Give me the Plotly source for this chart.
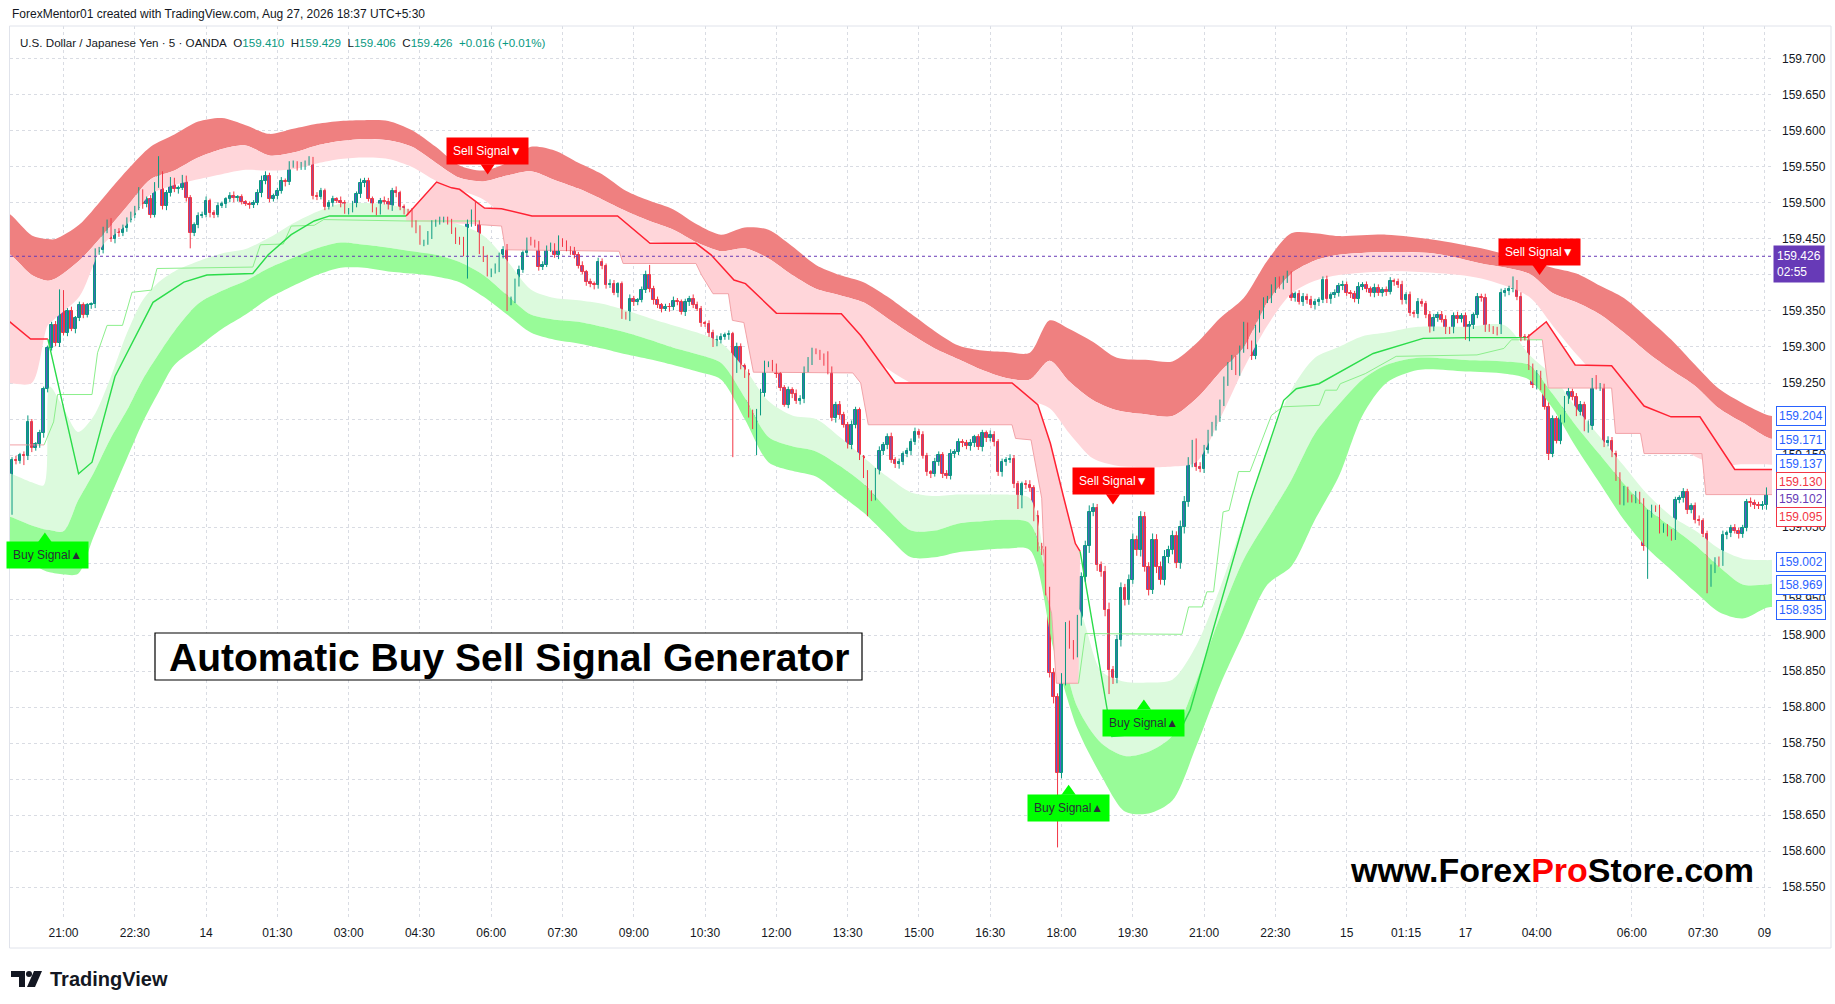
import plotly.graph_objects as go

# ---------------- chart values ----------------
# prices are given as offsets from 159.000 in steps of 0.001
BASE_PRICE = 159.0
STEP = 0.001

FIRST_OPEN = 70
# closes, bars 1-149
CLOSE_A = [143, 142, 150, 148, 196, 160, 165, 180, 241, 299,
           330, 306, 372, 320, 350, 325, 340, 358, 345, 358,
           360, 432, 435, 461, 472, 450, 461, 458, 465, 477,
           484, 493, 514, 498, 505, 484, 524, 538, 496, 514,
           531, 519, 521, 533, 507, 458, 470, 482, 484, 503,
           486, 484, 496, 498, 505, 510, 507, 508, 502, 499,
           497, 500, 514, 531, 538, 505, 510, 517, 531, 529,
           552, 555, 550, 552, 555, 558, 510, 508, 517, 495,
           500, 505, 503, 500, 489, 490, 498, 512, 528, 530,
           505, 491, 489, 503, 502, 494, 517, 514, 494, 489,
           488, 472, 463, 445, 446, 456, 472, 474, 476, 477,
           475, 461, 449, 447, 430, 472, 484, 472, 435, 423,
           402, 405, 410, 428, 435, 362, 366, 390, 407, 430,
           447, 445, 444, 411, 414, 437, 439, 428, 447, 444,
           437, 434, 428, 413, 404, 390, 387, 386, 418]
# closes, bars 150-259
CLOSE_B = [412, 386, 388, 375, 387, 344, 342, 367, 362, 365,
           379, 400, 381, 365, 358, 353, 356, 355, 364, 363,
           349, 362, 367, 358, 353, 333, 332, 320, 305, 310,
           314, 316, 318, 269, 300, 273, 262, 208, 190, 210,
           236, 276, 276, 272, 262, 243, 220, 240, 235, 225,
           228, 269, 280, 294, 293, 286, 280, 267, 201, 220,
           205, 192, 164, 192, 212, 147, 124, 95, 91, 128,
           155, 164, 175, 143, 137, 140, 152, 156, 168, 182,
           178, 149, 126, 124, 140, 150, 124, 121, 152, 154,
           168, 166, 162, 166, 175, 161, 180, 173, 178, 168,
           126, 140, 143, 145, 110, 80, 110, 109, 104, 65]
# closes, bars 260-303
CLOSE_C = [22, 18, -37, -153, -186, -292, -162, -88, -112, -125,
           -79, -19, 23, 71, 76, -3, -12, -65, -149, -160,
           -107, -35, -51, -23, 32, 18, 64, -5, -37, 32,
           -5, -23, 9, 18, 37, 0, 50, 85, 141, 164,
           134, 131, 157, 180]
# closes, bars 304-444
CLOSE_D = [190,
           201, 222, 252, 273, 284, 265, 296, 330, 303, 287,
           326, 344, 365, 366, 381, 393, 385, 395, 400, 368,
           373, 363, 370, 365, 358, 362, 365, 393, 366,
           372, 375, 385, 386, 375, 373, 366, 384, 386, 380,
           375, 382, 375, 379, 377, 391, 390, 386, 365,
           372, 347, 346, 362, 360, 345, 326, 340, 345, 338,
           324, 323, 343, 339, 343, 314, 330, 344, 370,
           368, 327, 325, 323, 322, 375, 378, 380, 388, 370,
           314, 313, 273, 247, 262, 245, 217, 152, 200, 170,
           201, 226, 238, 230, 210, 220, 187, 190, 252, 245,
           245, 166, 170, 152, 120, 85, 102, 90, 88, 94,
           86, 23, 68, 76, 75, 47, 50, 41, 37, 87,
           90, 98, 73, 79, 60, 58, 40, -28, -8,
           4, 0, 39, 41, 48, 45, 40, 48, 85, 83,
           81, 79, 80, 100]

UPPER_WICK = [4, 6, 3, 5, 9, 4, 3, 5, 4, 3,
              5, 6, 8, 7, 4, 6, 3, 5, 4, 3,
              2, 5, 4, 6, 5, 7, 3, 4, 5, 3,
              4, 3, 8, 5, 4, 6, 5, 27, 6, 4,
              5, 4, 3, 6, 5, 4, 3, 5, 4, 6,
              3, 4, 5, 4, 3, 5, 6, 3, 4, 2,
              3, 4, 5, 7, 6, 4, 3, 4, 5, 3,
              6, 4, 3, 5, 4, 7, 6, 5, 4, 3,
              4, 5, 3, 6, 4, 3, 5, 4, 6, 5,
              5, 4, 3, 4, 6, 5, 4, 6, 3, 4,
              3, 5, 4, 6, 3, 5, 4, 3, 5, 4,
              4, 3, 5, 4, 6, 5, 7, 19, 4, 5,
              5, 4, 6, 3, 5, 8, 4, 5, 6, 4,
              5, 6, 4, 3, 5, 4, 6, 5, 8, 4,
              4, 3, 5, 4, 6, 3, 5, 4, 6, 5,
              4, 6, 5, 3, 4, 5, 6, 4, 3, 5,
              6, 14, 4, 5, 3, 4, 5, 6, 4, 3,
              5, 4, 6, 5, 4, 3, 5, 4, 6, 5,
              4, 5, 3, 6, 5, 4, 7, 5, 4, 6,
              5, 4, 6, 5, 3, 4, 5, 4, 6, 5,
              4, 6, 5, 4, 3, 5, 14, 6, 4, 5,
              5, 4, 6, 5, 4, 3, 5, 6, 4, 7,
              4, 5, 6, 4, 5, 3, 4, 5, 6, 4,
              5, 4, 3, 6, 5, 4, 5, 6, 4, 5,
              4, 5, 6, 3, 4, 5, 4, 6, 5, 4,
              5, 4, 6, 5, 4, 3, 5, 6, 4, 8,
              6, 5, 4, 7, 5, 9, 6, 8, 5, 7,
              6, 8, 9, 7, 6, 5, 8, 10, 6, 7,
              8, 6, 7, 9, 6, 8, 7, 6, 9, 8,
              7, 9, 6, 8, 7, 9, 8, 6, 7, 9,
              6, 7, 5, 6, 4, 5, 7, 6, 5, 4,
              6, 5, 4, 6, 5, 7, 4, 5, 6, 4,
              5, 4, 6, 5, 4, 6, 5, 4, 6, 5,
              4, 5, 6, 4, 5, 4, 6, 5, 4, 5,
              6, 4, 5, 4, 6, 5, 4, 5, 6, 4,
              5, 6, 4, 5, 4, 6, 5, 4, 5, 6,
              4, 5, 6, 4, 5, 6, 4, 5, 6, 4,
              5, 4, 6, 5, 4, 5, 6, 4, 5, 10,
              5, 6, 4, 5, 4, 6, 5, 4, 6, 5,
              4, 5, 6, 5, 4, 6, 5, 4, 8, 5,
              9, 5, 4, 6, 5, 4, 6, 5, 4, 5,
              6, 5, 4, 6, 5, 4, 6, 5, 4, 6,
              5, 4, 6, 5, 4, 5, 6, 4, 5, 6,
              4, 5, 6, 4, 5, 6, 4, 5, 4, 6,
              5, 4, 6, 5]

LOWER_WICK = [3, 5, 4, 12, 5, 6, 4, 5, 6, 4,
              4, 5, 6, 4, 5, 3, 6, 4, 5, 4,
              5, 6, 4, 5, 3, 4, 6, 5, 4, 5,
              4, 5, 3, 6, 4, 5, 4, 3, 5, 6,
              5, 4, 6, 3, 5, 21, 4, 5, 3, 4,
              6, 5, 4, 3, 5, 4, 6, 5, 4, 3,
              5, 4, 3, 6, 5, 4, 3, 5, 4, 6,
              4, 3, 5, 4, 6, 3, 5, 4, 3, 5,
              4, 5, 3, 6, 4, 5, 3, 4, 5, 6,
              3, 4, 6, 5, 4, 3, 5, 6, 4, 5,
              4, 6, 5, 3, 5, 4, 6, 5, 4, 3,
              5, 4, 6, 5, 4, 35, 5, 4, 6, 5,
              4, 5, 3, 6, 5, 12, 4, 5, 6, 4,
              5, 4, 6, 5, 4, 3, 5, 4, 6, 5,
              4, 6, 5, 4, 3, 5, 4, 6, 5, 4,
              5, 4, 3, 6, 5, 4, 6, 5, 4, 3,
              4, 5, 6, 4, 5, 3, 6, 4, 5, 4,
              6, 5, 4, 3, 5, 4, 6, 5, 4, 5,
              4, 6, 122, 5, 4, 5, 6, 4, 40, 5,
              5, 4, 6, 5, 4, 3, 5, 6, 4, 5,
              6, 4, 5, 3, 4, 6, 5, 4, 6, 5,
              4, 5, 6, 5, 4, 6, 30, 5, 4, 5,
              5, 6, 4, 5, 6, 4, 5, 6, 4, 5,
              4, 5, 6, 4, 5, 6, 4, 5, 6, 4,
              5, 4, 6, 5, 4, 6, 5, 4, 6, 5,
              6, 5, 4, 6, 5, 4, 6, 5, 7, 6,
              7, 8, 6, 9, 103, 7, 8, 7, 9, 6,
              8, 7, 9, 6, 8, 7, 9, 33, 8, 7,
              9, 8, 7, 6, 8, 9, 7, 8, 6, 9,
              7, 8, 9, 6, 7, 8, 9, 7, 8, 6,
              5, 6, 5, 4, 6, 5, 4, 6, 5, 4,
              5, 4, 6, 5, 4, 6, 5, 4, 5, 6,
              4, 5, 6, 4, 5, 4, 6, 5, 4, 6,
              5, 4, 5, 6, 4, 5, 6, 4, 5, 4,
              6, 5, 4, 5, 6, 4, 5, 6, 4, 5,
              4, 6, 5, 4, 5, 6, 4, 5, 6, 4,
              5, 4, 6, 5, 4, 6, 5, 4, 6, 5,
              4, 5, 6, 4, 5, 6, 4, 5, 6, 4,
              5, 6, 4, 5, 4, 6, 5, 4, 9, 5,
              4, 5, 6, 5, 4, 6, 5, 4, 6, 5,
              4, 6, 5, 4, 5, 6, 4, 5, 6, 4,
              5, 4, 6, 45, 5, 4, 6, 5, 4, 6,
              5, 4, 6, 5, 4, 5, 6, 4, 14, 5,
              6, 5, 4, 6, 5, 4, 6, 5, 4, 5,
              6, 4, 5, 6]

TIME_TICK_BAR = [14, 32, 50, 68, 86, 104, 122, 140, 158, 176, 194, 212, 230,
                 248, 266, 284, 302, 320, 338, 353, 368, 386, 410, 428, 443.5]
TIME_TICK_TEXT = ["21:00", "22:30", "14", "01:30", "03:00", "04:30", "06:00",
                  "07:30", "09:00", "10:30", "12:00", "13:30", "15:00", "16:30",
                  "18:00", "19:30", "21:00", "22:30", "15", "01:15", "17",
                  "04:00", "06:00", "07:30", "09"]

PRICE_TICK_TEXT = ["158.550", "158.600", "158.650", "158.700", "158.750", "158.800",
                   "158.850", "158.900", "158.950", "159.000", "159.050", "159.100",
                   "159.150", "159.200", "159.250", "159.300", "159.350", "159.400",
                   "159.450", "159.500", "159.550", "159.600", "159.650", "159.700"]
PRICE_TICK_HIDDEN = ["159.100", "159.400"]   # covered by price labels in the reference

# sell cloud (upper) boundaries
RED_X = [-3, 0, 6, 10, 12, 18,
         24, 30, 36, 42, 48, 54, 60, 66, 72, 78, 84, 90, 96, 102, 108, 114, 120,
         126, 132, 138, 144, 150, 156, 162, 168, 174, 180, 186, 192, 198, 204,
         210, 216, 222, 228, 234, 240, 246, 252,
         258, 263, 268, 274, 280, 288, 294, 300, 306, 312, 318, 324, 330, 336,
         348, 360, 372, 384,
         390, 396, 402, 408, 414, 420, 426, 432, 438, 444, 448]
RED_TOP = [486, 486, 455, 450, 450, 470,
           507, 545, 578, 595, 613, 618, 608, 596, 603, 610, 614, 615, 614, 601,
           578, 552, 545, 556, 578, 573, 556, 540, 517, 503, 491, 470, 456, 466,
           463, 440, 414, 400, 390, 370, 346, 322, 302, 295, 293,
           292, 337, 325, 307, 285, 282, 280, 305, 340, 368, 420, 458, 458, 454,
           456, 449, 437, 420,
           410, 402, 385, 368, 340, 310, 275, 242, 222, 206, 200]
RED_MID = [430, 430, 400, 392, 395, 420,
           456, 495, 533, 545, 563, 575, 580, 566, 570, 580, 586, 589, 587, 578,
           556, 535, 530, 538, 544, 532, 520, 505, 489, 475, 463, 445, 433, 437,
           423, 400, 381, 372, 362, 340, 318, 298, 283, 268, 257,
           255, 281, 252, 226, 212, 206, 204, 228, 265, 300, 362, 402, 420, 428,
           432, 430, 416, 402,
           375, 362, 345, 320, 292, 268, 246, 215, 195, 175, 167]
RED_BOT = [250, 250, 250, 330, 340, 370,
           442, 470, 512, 525, 533, 540, 546, 545, 547, 555, 561, 563, 561, 550,
           531, 518, 505, 480, 470, 462, 455, 452, 451, 447, 442, 425, 400, 380,
           350, 345, 344, 330, 300, 270, 250, 240, 235, 235, 230,
           225, 215, 180, 145, 135, 133, 134, 140, 200, 270, 330, 374, 392, 400,
           405, 403, 395, 370,
           330, 290, 255, 230, 200, 168, 148, 135, 137, 137, 137]

# buy cloud (lower) boundaries
GRN_X = [-3, 0, 6, 9, 10.5, 14, 17.7, 21.5, 25.7, 30, 34, 38, 42,
         48, 54, 60, 66, 72, 78, 84, 90, 96, 102, 108,
         114, 120, 126, 132, 138, 144, 150, 156, 162, 168, 174, 180, 186, 192,
         198, 204, 210, 216, 222, 228, 234, 240, 246, 252, 258,
         264, 270, 276, 282, 288, 294, 300, 306, 312, 318, 324, 330, 336, 342, 348,
         356, 368, 378, 384,
         390, 396, 402, 408, 414, 420, 426, 432, 438, 444, 448]
GRN_TOP = [125, 125, 112, 108, 245, 215, 182, 203, 255, 319, 365, 390, 405,
           419, 430, 436, 452, 472, 488, 499, 500, 498, 490, 479,
           470, 455, 420, 380, 368, 365, 360, 351, 340, 330, 320, 306, 270, 225,
           205, 200, 175, 147, 120, 98, 93, 95, 95, 95, 90,
           -40, -60, -150, -165, -166, -162, -115, -35, 60, 160, 240, 285, 300, 315, 320,
           328, 328, 330, 290,
           260, 215, 175, 135, 95, 65, 45, 20, 6, 4, 4]
GRN_MID = [65, 65, 52, 47, 46, 44, 87, 124, 171, 212, 255, 290, 322,
           360, 378, 392, 410, 424, 437, 445, 442, 438, 433, 428,
           418, 400, 372, 345, 338, 335, 328, 320, 310, 299, 290, 278, 230, 175,
           162, 155, 135, 110, 75, 45, 45, 55, 58, 60, 55,
           -70, -200, -250, -268, -262, -240, -165, -75, 5, 60, 115, 180, 220, 255, 275,
           285, 282, 280, 275,
           235, 190, 150, 110, 75, 50, 25, -5, -30, -30, -28]
GRN_BOT = [25, 25, 0, -10, -13, -16, -15, 35, 90, 145, 195, 237, 275,
           300, 325, 345, 368, 385, 400, 410, 410, 405, 402, 398,
           390, 370, 345, 320, 310, 305, 298, 290, 283, 275, 266, 255, 200, 140,
           128, 120, 95, 70, 38, 8, 8, 15, 18, 20, 18,
           -120, -230, -295, -345, -348, -330, -255, -170, -98, -30, -5, 60, 120, 205, 250,
           268, 266, 263, 255,
           215, 160, 110, 60, 20, -10, -40, -68, -77, -62, -58]

# trailing stop lines
RED1_X = [0.0, 5.7, 10.06]
RED1_Y = [337, 311, 311]
RED2_X = [100.5, 108.2, 112, 114, 120.3, 124.6, 132.3, 153.9, 162.1, 173.7, 177.5,
          183.3, 186.2, 194, 210.4, 215.3, 224, 253.5, 260, 263.2, 266.5, 269.5, 270.7]
RED2_Y = [482, 529, 521, 519, 493, 492, 482, 482, 444, 444, 428,
          393, 388, 347, 346, 316, 250, 250, 220, 166, 92, 27, 16]
RED3_X = [383.5, 388.4, 395.7, 404.9, 413.1, 419.9, 427.2, 436, 446]
RED3_Y = [313, 335, 275, 274, 218, 203, 203, 130, 130]

GRN1_X = [10.06, 17.8, 21.2, 27, 36.6, 44.4, 50.2, 61.8, 65.7, 71.5, 77.3, 81.2, 100.5]
GRN1_Y = [311, 124, 140, 259, 362, 390, 400, 402, 428, 456, 475, 482, 482]
GRN2_X = [270.7, 278.7, 296, 298.5, 305.2, 313.7, 322.1, 325.3, 331, 344.7, 357.3, 369, 383.5]
GRN2_Y = [16, -241, -232, -204, -75, 88, 226, 242, 249, 291, 312, 313, 313]

THINP1_X = [0.0, 9.1]
THINP1_Y = [164, 164]
THING1_X = [9.1, 11.5, 12.5, 21.2, 22.6, 25, 28.9, 31.3, 36.2, 37.6, 61.8, 63.7,
            69.5, 71.5, 77.3, 79.7, 100.5, 118.9]
THING1_Y = [164, 196, 234, 234, 292, 330, 330, 376, 379, 409, 411, 442,
            443, 468, 469, 477, 475, 475]
THINP2_X = [118.9, 124.6, 125.6, 154.3, 155.3, 173.7, 175.1, 178, 181.9, 182.9, 185.8,
            188.2, 213.3, 215.3, 217.2, 253.5, 254.4, 258.3, 259.8, 261, 262, 263.5,
            264.7, 270.3]
THINP2_Y = [470, 468, 435, 433, 416, 416, 400, 374, 374, 337, 334,
            265, 264, 250, 192, 192, 173, 171, 126, 90, -40, -70,
            -167, -167]
THING2_X = [270.3, 272, 296.4, 298.1, 301.5, 302.7, 304.4, 306.8, 308.3, 310.7, 313.6,
            319, 321.9, 331.1, 332.6, 335.5, 336.4, 342.7, 350.5, 370.9, 377.7, 379.6, 387.4]
THING2_Y = [-167, -98, -99, -61, -61, -40, -40, 71, 73, 127, 127,
            205, 217, 219, 240, 240, 249, 263, 287, 289, 298, 310, 310]
THINP3_X = [387.4, 388.9, 404.9, 405.9, 412.2, 413.1, 427.7, 428.7, 446]
THINP3_Y = [310, 243, 243, 180, 180, 152, 152, 95, 95]

# signal labels: kind, label centre bar, label centre (offset), pointer bar
SIGNALS = [("sell", 121.1, 571.7, 121.1),
           ("sell", 279.0, 113.4, 279.0),
           ("sell", 386.7, 432.0, 386.7),
           ("buy", 10.0, 10.5, 9.3),
           ("buy", 267.8, -340.0, 267.8),
           ("buy", 286.8, -221.6, 286.8)]

LAST_PRICE = 159.426
COUNTDOWN = "02:55"
SYMBOL = "U.S. Dollar / Japanese Yen · 5 · OANDA"
OHLC = [("O", "159.410"), ("H", "159.429"), ("L", "159.406"), ("C", "159.426")]
CHANGE = "+0.016 (+0.01%)"
SIDE_VALUES = [159.204, 159.171, 159.137, 159.130, 159.102, 159.095, 159.002, 158.969, 158.935]
SIDE_KIND = ["blue", "blue", "blue", "red", "purple", "red", "blue", "blue", "blue"]
SIDE_SHOWN_AT = [159.204, 159.171, 159.137, 159.112, 159.089, 159.064, 159.002, 158.969, 158.935]

# ---------------- geometry / style ----------------
W, H = 1835, 1004
PL, PR, PT, PB = 10, 1772, 26, 920
X_RANGE = [0.49, 445.4]
Y_RANGE = [158.5042, 159.7458]
FONT = "Liberation Sans, Arial, sans-serif"
TXT = "#131722"
GRID = "#d9dce3"
UP, DOWN, BODY_FILL = "#089981", "#f23645", "#5f58c9"
SIDE_COLORS = {"blue": "#2962ff", "red": "#f23645", "purple": "#673ab7"}


def px(v):
    return BASE_PRICE + v * STEP


def paper(x, y):
    return (x - PL) / (PR - PL), 1 - (y - PT) / (PB - PT)


def polygon(xa, ya, xb, yb, color, shape="linear"):
    xs = list(xa) + list(xb)[::-1]
    ys = [px(v) for v in ya] + [px(v) for v in yb][::-1]
    return go.Scatter(x=xs, y=ys, mode="lines",
                      line=dict(width=0, shape=shape, smoothing=0.8),
                      fill="toself", fillcolor=color, hoverinfo="skip")


def line(xs, ys, color, width):
    return go.Scatter(x=xs, y=[px(v) for v in ys], mode="lines",
                      line=dict(color=color, width=width), hoverinfo="skip")


fig = go.Figure()

# clouds
fig.add_trace(polygon(RED_X, RED_TOP, RED_X, RED_MID, "#ef8080", "spline"))
fig.add_trace(polygon(RED_X, RED_MID, RED_X, RED_BOT, "#ffd6da", "spline"))
fig.add_trace(polygon(GRN_X, GRN_TOP, GRN_X, GRN_MID, "#dcfadd", "spline"))
fig.add_trace(polygon(GRN_X, GRN_MID, GRN_X, GRN_BOT, "#98fb98", "spline"))

# pink fill between the two trailing stops while in sell mode
PINK_FILL = "#ffd0d5"
fig.add_trace(polygon(RED2_X, RED2_Y, [RED2_X[0]] + THINP2_X, [THING1_Y[-1]] + THINP2_Y, PINK_FILL))
fig.add_trace(polygon(RED3_X, RED3_Y, [RED3_X[0]] + THINP3_X, [THING2_Y[-1]] + THINP3_Y, PINK_FILL))

# trailing stop lines
for xs, ys in [(THINP1_X, THINP1_Y), (THINP2_X, THINP2_Y), (THINP3_X, THINP3_Y)]:
    fig.add_trace(line(xs, ys, "#f2a3a8", 1))
for xs, ys in [(THING1_X, THING1_Y), (THING2_X, THING2_Y)]:
    fig.add_trace(line(xs, ys, "#8cef8c", 1))
for xs, ys in [(RED1_X, RED1_Y), (RED2_X, RED2_Y), (RED3_X, RED3_Y)]:
    fig.add_trace(line(xs, ys, "#ff2233", 1.5))
for xs, ys in [(GRN1_X, GRN1_Y), (GRN2_X, GRN2_Y)]:
    fig.add_trace(line(xs, ys, "#2bdc4a", 1.4))

# candles
closes = CLOSE_A + CLOSE_B + CLOSE_C + CLOSE_D
opens = [FIRST_OPEN] + closes[:-1]
bars = list(range(1, len(closes) + 1))
highs = [max(o, c) + u for o, c, u in zip(opens, closes, UPPER_WICK)]
lows = [min(o, c) - d for o, c, d in zip(opens, closes, LOWER_WICK)]
is_up = [c >= o for o, c in zip(opens, closes)]

for flag, col in [(True, UP), (False, DOWN)]:
    wx, wy = [], []
    for b, hi, lo, u in zip(bars, highs, lows, is_up):
        if u == flag:
            wx += [b, b, None]
            wy += [px(lo), px(hi), None]
    fig.add_trace(go.Scatter(x=wx, y=wy, mode="lines", line=dict(color=col, width=1),
                             hoverinfo="skip"))

fig.add_trace(go.Bar(
    x=bars,
    y=[max(abs(c - o), 0.8) * STEP for o, c in zip(opens, closes)],
    base=[px(min(o, c)) for o, c in zip(opens, closes)],
    width=0.66,
    marker=dict(color=BODY_FILL, line=dict(color=[UP if u else DOWN for u in is_up], width=1)),
    hoverinfo="skip"))

shapes = []
annotations = []

# current price line
shapes.append(dict(type="line", xref="x", yref="y", x0=X_RANGE[0], x1=X_RANGE[1],
                   y0=LAST_PRICE, y1=LAST_PRICE, line=dict(color="#673ab7", width=1, dash="dot"),
                   layer="above"))

# signal labels
HALF_BOX = 19
POINTER_H = 13
for kind, xc, yc, xp in SIGNALS:
    if kind == "sell":
        text, bg, fc = "Sell Signal▼", "#ff0000", "#ffffff"
        edge, tip = yc - HALF_BOX + 1, yc - HALF_BOX - POINTER_H
    else:
        text, bg, fc = "Buy Signal▲", "#00ff00", "#2a2e39"
        edge, tip = yc + HALF_BOX - 1, yc + HALF_BOX + POINTER_H
    shapes.append(dict(type="path", xref="x", yref="y", layer="above",
                       path=f"M {xp - 1.8},{px(edge)} L {xp + 1.8},{px(edge)} L {xp},{px(tip)} Z",
                       fillcolor=bg, line=dict(width=0)))
    annotations.append(dict(x=xc, y=px(yc), xref="x", yref="y", xanchor="center", yanchor="middle",
                            text=text, showarrow=False,
                            bgcolor=bg, borderpad=6, font=dict(family=FONT, size=12, color=fc)))

# right side price labels
lx, _ = paper(1776, 0)
for val, kind, shown in zip(SIDE_VALUES, SIDE_KIND, SIDE_SHOWN_AT):
    col = SIDE_COLORS[kind]
    annotations.append(dict(x=lx, y=shown, xref="paper", yref="y", xanchor="left", yanchor="middle",
                            text=f"{val:.3f}", showarrow=False, bgcolor="#ffffff", bordercolor=col,
                            borderwidth=1, borderpad=2, font=dict(family=FONT, size=12, color=col)))
cx, _ = paper(1773, 0)
annotations.append(dict(x=cx, y=LAST_PRICE - 0.0103, xref="paper", yref="y", xanchor="left",
                        yanchor="middle", text=f"{LAST_PRICE:.3f}<br>{COUNTDOWN}", showarrow=False,
                        bgcolor="#673ab7", borderpad=3, align="left",
                        font=dict(family=FONT, size=12, color="#ffffff")))

# header texts
hx, hy = paper(10, 14)
annotations.append(dict(x=hx, y=hy, xref="paper", yref="paper", xanchor="left", yanchor="middle",
                        showarrow=False, font=dict(family=FONT, size=12, color=TXT),
                        text="ForexMentor01 created with TradingView.com, Aug 27, 2026 18:37 UTC+5:30"))
teal = "#089981"
sym = SYMBOL + "&nbsp;&nbsp;" + "&nbsp;&nbsp;".join(
    f"{k}<span style='color:{teal}'>{v}</span>" for k, v in OHLC) + \
    f"&nbsp;&nbsp;<span style='color:{teal}'>{CHANGE}</span>"
sx, sy = paper(18, 42)
annotations.append(dict(x=sx, y=sy, xref="paper", yref="paper", xanchor="left", yanchor="middle",
                        showarrow=False, text=sym, font=dict(family=FONT, size=11.6, color=TXT)))

# watermark box
bx0, by0 = paper(155, 633)
bx1, by1 = paper(862, 680)
shapes.append(dict(type="rect", xref="paper", yref="paper", x0=bx0, x1=bx1, y0=by1, y1=by0,
                   fillcolor="#ffffff", line=dict(color="#000000", width=1.2), layer="above"))
wx_, wy_ = paper(508.5, 657)
annotations.append(dict(x=wx_, y=wy_, xref="paper", yref="paper", xanchor="center", yanchor="middle",
                        showarrow=False,
                        text="<b>Automatic Buy Sell Signal Generator</b>",
                        font=dict(family="Liberation Sans, Arial, sans-serif", size=39, color="#000000")))
ux, uy = paper(1552, 870)
annotations.append(dict(x=ux, y=uy, xref="paper", yref="paper", xanchor="center", yanchor="middle",
                        showarrow=False,
                        text="<b>www.Forex<span style='color:#ff0000'>Pro</span>Store.com</b>",
                        font=dict(family="Liberation Sans, Arial, sans-serif",
                                  size=34, color="#000000")))

# TradingView footer
tx, ty = paper(48, 979)
annotations.append(dict(x=tx, y=ty, xref="paper", yref="paper", xanchor="left", yanchor="middle",
                        showarrow=False, text="<b>TradingView</b>",
                        font=dict(family=FONT, size=20, color="#131722")))


def ppath(points):
    s = ""
    for k, (x, y) in enumerate(points):
        a, b = paper(x, y)
        s += ("M" if k == 0 else " L") + f" {a},{b}"
    return s + " Z"


shapes.append(dict(type="path", xref="paper", yref="paper", layer="above", fillcolor="#131722",
                   line=dict(width=0),
                   path=ppath([(11, 971), (25, 971), (25, 987), (19, 987), (19, 977), (11, 977)])))
c0x, c0y = paper(26, 971)
c1x, c1y = paper(32, 977)
shapes.append(dict(type="circle", xref="paper", yref="paper", layer="above", fillcolor="#131722",
                   line=dict(width=0), x0=c0x, x1=c1x, y0=c1y, y1=c0y))
shapes.append(dict(type="path", xref="paper", yref="paper", layer="above", fillcolor="#131722",
                   line=dict(width=0),
                   path=ppath([(34, 971), (42, 971), (35, 987), (27, 987)])))

# chart frame
f0x, f0y = paper(9.5, 26)
f1x, f1y = paper(1831, 948)
shapes.append(dict(type="rect", xref="paper", yref="paper", x0=f0x, x1=f1x, y0=f1y, y1=f0y,
                   line=dict(color="#e0e3eb", width=1), layer="above"))

fig.update_layout(
    width=W, height=H, margin=dict(l=PL, r=W - PR, t=PT, b=H - PB),
    paper_bgcolor="#ffffff", plot_bgcolor="#ffffff", showlegend=False, hovermode=False,
    font=dict(family=FONT, size=12, color=TXT),
    xaxis=dict(range=X_RANGE, tickvals=TIME_TICK_BAR, ticktext=TIME_TICK_TEXT,
               showgrid=True, gridcolor=GRID, griddash="dot", gridwidth=1,
               zeroline=False, showline=False, ticks="", ticklabelstandoff=4,
               tickfont=dict(family=FONT, size=12, color=TXT), fixedrange=True),
    yaxis=dict(range=Y_RANGE, side="right",
               tickvals=[float(t) for t in PRICE_TICK_TEXT],
               ticktext=["" if t in PRICE_TICK_HIDDEN else t for t in PRICE_TICK_TEXT],
               showgrid=True, gridcolor=GRID, griddash="dot", gridwidth=1,
               zeroline=False, showline=False, ticks="", ticklabelstandoff=9,
               tickfont=dict(family=FONT, size=12, color=TXT), fixedrange=True),
    shapes=shapes, annotations=annotations, bargap=0)

fig.write_html("out.html", config={"displayModeBar": False},
               post_script="document.body.style.margin='0px';")
